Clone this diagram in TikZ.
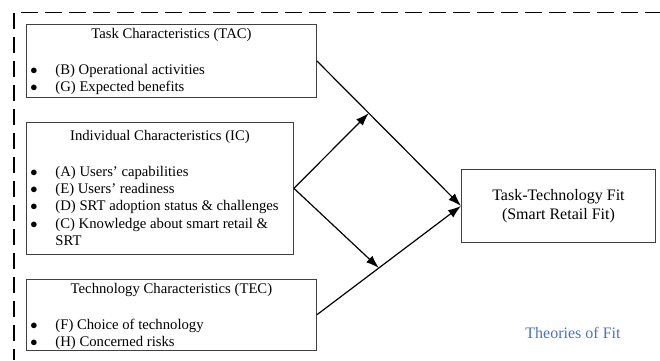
\documentclass[tikz,border=0pt]{standalone}
\usepackage{fontspec}
\setmainfont{Liberation Serif}
\usepackage{xcolor}
\usepackage{tikz}
\usetikzlibrary{arrows.meta,positioning,calc}
\definecolor{fitblue}{rgb}{0.27,0.45,0.77}
\definecolor{fitgray}{rgb}{0.25,0.25,0.25}
\newcommand{\fittitle}[2]{\noindent\makebox[\linewidth]{\rule{0pt}{#1}#2}\par\vspace{18.7pt}}
\newcommand{\fitbul}[1]{\par\noindent\hangindent=29pt\hangafter=1%
  \hbox to 29pt{\hspace{4pt}$\bullet$\hfil}#1}

\begin{document}
\begin{tikzpicture}[
  x=1pt, y=-1pt,
  box/.style={draw=fitgray, line width=0.9pt, inner sep=0pt,
              font=\fontsize{14.7}{17.3}\selectfont},
  fitbox/.style={box, minimum width=194pt, minimum height=73pt, align=center,
              font=\fontsize{16}{19}\selectfont},
  arr/.style={-{Latex[length=13pt,width=9pt]}, line width=1.2pt},
  frame/.style={line width=1.7pt, dash pattern=on 16.7pt off 7.3pt}
]
\useasboundingbox (0,0) rectangle (660,360);

% three groups of characteristics
\node[box, anchor=north west] (tac) at (26,24) {%
  \begin{minipage}[t][73pt][t]{290pt}\raggedright
  \fittitle{14pt}{Task Characteristics (TAC)}
  \fitbul{(B) Operational activities}
  \fitbul{(G) Expected benefits}
  \end{minipage}};
\node[box, below right=24pt and 0pt of tac.south west] (ic) {%
  \begin{minipage}[t][132pt][t]{267pt}\raggedright
  \fittitle{18pt}{Individual Characteristics (IC)}
  \fitbul{(A) Users’ capabilities}
  \fitbul{(E) Users’ readiness}
  \fitbul{(D) SRT adoption status \& challenges}
  \fitbul{(C) Knowledge about smart retail \&\newline SRT}
  \end{minipage}};
\node[box, below right=24pt and 0pt of ic.south west] (tec) {%
  \begin{minipage}[t][71pt][t]{290pt}\raggedright
  \fittitle{14pt}{Technology Characteristics (TEC)}
  \fitbul{(F) Choice of technology}
  \fitbul{(H) Concerned risks}
  \end{minipage}};

\node[fitbox, anchor=north west] (ttf) at (461,169)
  {Task-Technology Fit\\(Smart Retail Fit)};

\coordinate (tacmid) at ($(tac.east)!0.36!(ttf.west)$);
\coordinate (tecmid) at ($(tec.east)!0.43!(ttf.west)$);

\draw[arr] (tac.east) -- (ttf.west);
\draw[arr] (tec.east) -- (ttf.west);
\draw[arr] (ic.east) -- (tacmid);
\draw[arr] (ic.east) -- (tecmid);

\node[fitblue, font=\fontsize{16}{19}\selectfont] (tof) at (573,333) {Theories of Fit};

% open dashed frame
\coordinate (fcorner) at (14,12.5);
\draw[frame] (fcorner) -- (14,360);
\draw[frame, dash phase=16.7pt] (fcorner) -- (660,12.5);

\end{tikzpicture}
\end{document}
